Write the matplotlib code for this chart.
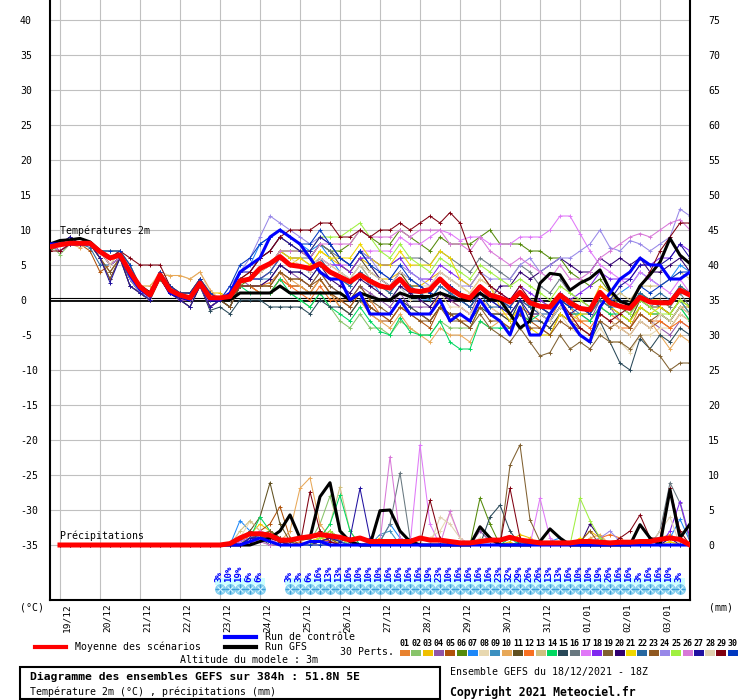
import matplotlib
matplotlib.use("Agg")
import matplotlib.pyplot as plt
import numpy as np
from matplotlib.lines import Line2D
from matplotlib.patches import Rectangle
from matplotlib.transforms import ScaledTranslation

# ---------------------------------------------------------------------------
# DATA - GEFS ensemble 18/12/2021 18Z, 6-hourly steps 0..64 (384h)
# temperatures in degC (65 values), precipitation in mm (steps 1..64)
# ---------------------------------------------------------------------------

day_labels = ['19/12', '20/12', '21/12', '22/12', '23/12', '24/12', '25/12', '26/12',
              '27/12', '28/12', '29/12', '30/12', '31/12', '01/01', '02/01', '03/01']
day_steps = [1, 5, 9, 13, 17, 21, 25, 29, 33, 37, 41, 45, 49, 53, 57, 61]

member_names = ['01', '02', '03', '04', '05', '06', '07', '08', '09', '10',
                '11', '12', '13', '14', '15', '16', '17', '18', '19', '20',
                '21', '22', '23', '24', '25', '26', '27', '28', '29', '30']
member_colors = ['#e8822f', '#88c46a', '#f0c000', '#9055a8', '#b0520a', '#548a0a',
                 '#1e88f8', '#e8d8b0', '#3c90c0', '#e8a858', '#605020', '#f87020',
                 '#d0c080', '#00d860', '#284858', '#687880', '#e078f8', '#8028f0',
                 '#806030', '#300070', '#f0d800', '#2868a0', '#905820', '#9888e8',
                 '#a0f040', '#d878d8', '#2010a0', '#e0d0b0', '#800010', '#0038c0']

t_mean = [7.6, 7.9, 8.1, 8.1, 8.1, 6.9, 6.0, 6.4, 4.0, 1.9, 0.7, 3.6, 1.4, 0.7, 0.3, 2.4, 0.3,
          0.3, 0.5, 2.7, 3.0, 4.5, 5.2, 6.2, 5.0, 4.8, 4.5, 5.2, 4.0, 3.3, 2.6, 3.6, 2.7,
          2.0, 1.7, 3.0, 1.4, 1.2, 1.5, 3.0, 1.6, 0.7, 0.3, 1.9, 0.7, 0.3, -0.3, 1.1, -0.4,
          -0.9, -1.0, 0.7, -0.4, -1.2, -1.4, 1.1, -0.4, -0.9, -1.2, 0.4, -0.3, -0.4, -0.4, 1.4, 0.7]
t_ctrl = [8, 8, 8, 8, 8, 7, 6, 6.5, 3.5, 1.5, 0.5, 3.5, 1, 0.5, 0, 2.5, 0,
          0, 1, 4, 5, 6, 9, 10, 9, 8, 6, 4, 3, 3, 0, 1, -2, -2, -2, 0, -2, -2, -2, 0, -3,
          -2, -3, 0, -2, -3, -5, -1, -5, -5, -2, 0, -3, -5, -6, -1, 1, 3, 4, 6, 5, 5, 3, 3, 4]
t_gfs = [8, 8.5, 8.6, 8.8, 8.3, 7, 6, 6.5, 4, 2, 1, 3.5, 1, 0.5, 0, 2.5, 0,
         0, 0, 1, 1, 1, 1, 2, 1, 1, 1, 1, 1, 1, 0, 1, 0.5, 0, 0, 1, 0.5, 0.5, 0.5, 1, 0.5,
         0, 0, 1, 0, 0, -2, -4, -3, 2.4, 3.8, 3.6, 1.4, 2.4, 3.1, 4.3, 1.4,
         -0.2, -0.7, 2, 3.6, 5.4, 8.8, 6.4, 5.2]

t01 = [8, 8, 8, 8, 8, 7, 6, 7, 3, 1, 0, 4, 1, 1, 0, 3, 0,
       0, 0, 2, 2, 2, 2.5, 4, 2, 2, 1, 3, 1, 0, 0, 2, 0, -2, -2, 0, -1, -2, -2, 1, 0,
       -1, -2, 0, -1, -2, -2, 0, -1, -2, -3, 0, -1, -3, -3, -1, -2, -3, -4, -1, -2, -2, -3, -1, -1]
t02 = [8, 6.5, 8, 8, 8, 6, 4, 6, 3, 1, 0, 3, 1, 1, 0, 2, 0,
       0, -1, 2, 2, 1, 1, 2, 1, 0, -1, 1, -1, -3, -4, -2, -4, -4, -5, -3, -4, -5, -5, -3, -4,
       -4, -4, -1, -2, -2, -3, 0, -1, -1, -2, 1, 0, -1, -2, 1, -1, -2, -3, 0, -1, -2, -3, -1, -3]
t03 = [8, 8, 8, 8, 8, 7, 7, 7, 5, 2, 1, 4, 2, 1, 1, 3, 1,
       1, 0, 3, 3, 3, 4, 6, 5, 6, 5, 7, 6, 5, 4, 6, 5, 3, 3, 4, 2, 2, 3, 4, 3,
       2, 1, 3, 2, 0, -1, 1, 0, -1, -2, 1, 0, 0, -1, 2, 1, -1, -2, 1, 0, 0, -1, 2, 1]
t04 = [8, 7, 8, 8, 8, 7, 5, 6, 4, 2, 1, 4, 1, 0, 0, 2, -1,
       0, 0, 3, 2, 2, 3, 5, 4, 3, 2, 4, 2, 1, 0, 2, 1, 0, -1, 1, -1, -1, -1, 1, 0,
       -1, -2, 1, 0, -1, -2, 0, -1, -2, -3, -1, -2, -2, -3, 0, -1, -3, -4, -2, -3, -4, -5, -3, -4]
t05 = [8, 8, 8, 8, 7, 4, 5, 6, 3, 1, 0, 4, 1, 1, 0, 2, 0,
       0, -1, 2, 2, 1, 1, 3, 2, 2, 1, 3, 1, -1, -2, 0, -2, -3, -3, -1, -2, -3, -4, -1, -2,
       -3, -3, 0, -2, -3, -4, -2, -3, -4, -5, -2, -3, -4, -5, -2, -3, -4, -5, -3, -4, -3, -4, -2, -3]
t06 = [8, 8, 8, 8, 8, 7, 6, 7, 4, 1, 0, 4, 1, 1, 0, 3, 0,
       0, 0, 2, 3, 4, 5, 7, 7, 7, 6, 8, 7, 7, 8, 10, 9, 8, 8, 10, 9, 8, 7, 9, 8,
       8, 8, 9, 10, 8, 8, 8, 7, 7, 6, 6, 4, 3, 2, 3, 1, 0, -1, 1, 0, -1, -2, 0, -2]
t07 = [8, 8, 8, 8, 8, 7, 6, 7, 4, 2, 1, 4, 2, 1, 0, 3, 1,
       0, 1, 4, 5, 8, 9, 10, 9, 8, 7, 8, 6, 4, 3, 5, 3, 1, 0, 2, 0, 0, 0, 2, 1,
       0, -1, 1, 0, -1, -1, 1, 0, -1, -2, 0, -1, -1, -2, 1, 0, 1, 2, 4, 3, 2, 3, 5, 4]
t08 = [8, 8, 8, 8, 8, 7, 5, 7, 4, 2, 2, 4, 3.5, 3.5, 3, 4, 1,
       0, 0, 3, 3, 4, 5, 7, 6, 5, 4, 6, 4, 3, 2, 4, 2, 1, 0, 2, 0, 0, -1, 1, -1,
       -1, -2, 0, -1, -2, -3, -1, -2, -3, -4, -2, -4, -5, -6, -4, -6, -6, -7.5, -5, -5, -4, -4, -2, -3]
t09 = [8, 8, 8, 8, 8, 7, 6, 7, 3, 1, 0, 4, 1, 1, 0, 3, 0,
       0, 0, 3, 3, 3, 3, 5, 4, 4, 3, 5, 4, 3, 2, 4, 2, 2, 1, 3, 1, 1, 0, 2, 1,
       0, -1, 1, 0, 0, -1, 1, -1, -1, -2, 1, -1, -2, -2, 0, -1, -1, -2, 1, 0, -1, -2, 0, -2]
t10 = [8, 8, 8, 7.5, 8, 7, 5, 7, 4, 2, 2, 3.5, 3.5, 3.5, 3, 4, 1.5,
       0, -1, 2, 2, 2, 2, 4, 3, 2, 1, 3, 1, -1, -2, 0, -2, -3, -4, -2, -4, -5, -6, -4, -5,
       -5, -6, -3, -4, -3, -4, -1, -2, -2, -3, -1, -2, -3, -3, -1, -2, -3, -4, -2, -3, -5, -7, -5, -6]
t11 = [8, 8, 8, 8, 8, 7, 5, 6, 4, 2, 1, 4, 1, 0, 0, 2, -1,
       0, 0, 3, 4, 6, 7, 9, 8, 7, 6, 8, 7, 5, 4, 6, 4, 3, 2, 4, 2, 2, 1, 3, 2,
       1, 0, 2, 1, 0, -1, 1, 0, 0, -1, 1, 0, -1, -2, 0, -1, -2, -3, 0, -1, -1, -2, 0, -1]
t12 = [7, 8, 8, 8, 8, 6, 4, 6, 3, 1, 0, 3, 1, 1, 0, 2, 0,
       0, 0, 2, 2, 1, 1, 3, 2, 1, 0, 2, 0, 0, -1, 1, -1, -2, -3, -1, -2, -2, -3, -1, -2,
       -2, -3, 0, -2, -2, -3, -1, -2, -3, -4, -2, -3, -3, -4, -2, -3, -4, -4, -2, -3, -3, -4, -3, -4]
t13 = [8, 8, 8, 8, 8, 7, 7, 7, 5, 2, 1, 4, 2, 1, 1, 3, 1,
       0, 1, 3, 3, 4, 5, 7, 6, 6, 5, 6, 5, 4, 3, 5, 3, 2, 1, 3, 2, 1, 1, 3, 2,
       1, 0, 2, 1, 0, -1, 1, 0, 0, -1, 1, 0, 0, -1, 1, 0, 1, 0, 2, 2, 2, 3, 4, 3]
t14 = [8, 8, 8, 8, 8, 7, 6, 7, 3, 1, 0, 4, 1, 1, 0, 3, 0,
       0, -1, 2, 1, 1, 1, 3, 1, 0, -1, 1, -1, -2, -3, -1, -3, -4.5, -5, -2.5, -4.5, -5, -5, -3, -6,
       -7, -7, -3, -4, -4, -4, -2, -3, -2, -3, -1, -2, -2, -3, -1, -2, -2, -3, -1, -2, -2, -3, -1, -3]
t15 = [8, 8, 9, 8, 8, 6, 3, 6, 2, 1, 0, 4, 1, 0, -1, 2, -1.5,
       -1, -2, 0, 0, 0, -1, -1, -1, -1, -2, 0, -1, -1, -2, 0, -1, -2, -2, 0, -1, -2, -3, -1, -2,
       -2, -3, -1, -2, -2, -3, 0, -3, -3, -4, -2, -3, -5, -6, -3, -6, -9, -10, -5.5, -7, -5, -6, -4, -5]
t16 = [8, 7, 8, 8, 8, 7, 5, 6, 4, 2, 1, 4, 1, 0, 0, 2, -1,
       0, 0, 3, 3, 4, 5, 7, 6, 6, 6, 8, 7, 6, 5, 7, 6, 5, 5, 6, 6, 6, 5, 7, 6,
       5, 4, 6, 5, 4, 3, 5, 4, 2, 1, 3, 1, 0, -1, 1, 0, -1, -2, 0, -1, 0, -1, 1, -1]
t17 = [8, 8, 8, 8, 8, 7, 6, 7, 3, 1, 0, 4, 1, 1, 0, 3, 0,
       0, 0, 3, 3, 3, 4, 6, 5, 5, 4, 6, 5, 5, 5, 7, 7, 7, 7, 9, 8, 8, 9, 10, 9.5,
       8.5, 9, 9, 8, 8, 8, 9, 9, 9, 10, 12, 12, 9.5, 7, 5, 4, 3, 2, 4, 3, 2, 1, 3, 1]
t18 = [8, 8, 8, 8, 8, 7, 7, 7, 5, 2, 1, 4, 2, 1, 1, 3, 1,
       0, 0, 3, 3, 3, 4, 6, 5, 5, 4, 6, 5, 5, 4, 6, 6, 5, 5, 6, 4, 3, 3, 5, 4,
       3, 2, 4, 2, 1, 0, 2, 1, 0, -1, 1, 0, 1, 2, 4, 3, 3, 3, 5, 5, 6, 6, 8, 7]
t19 = [7, 8, 8, 8, 8, 6, 4, 6, 3, 1, 0, 3, 1, 1, 0, 2, 0,
       0, 0, 2, 2, 2, 2, 4, 3, 3, 2, 4, 2, 1, 0, 2, 0, -1, -2, 0, -2, -2, -3, -1, -3,
       -3, -4, -2, -4, -5, -6, -4, -6, -8, -7.5, -5, -7, -6, -7, -5, -6, -6, -7, -5, -7, -8, -10, -9, -9]
t20 = [8, 7, 8, 8, 8, 7, 5, 6, 4, 2, 1, 4, 1, 0, 0, 2, -1,
       0, -1, 2, 2, 2, 3, 5, 4, 4, 3, 5, 3, 2, 1, 3, 2, 1, 0, 2, 1, 0, -1, 1, 0,
       0, -1, 1, 0, 2, 2, 4, 3, 4, 5, 6, 5, 4, 4, 6, 5, 6, 5, 6, 4, 4, 5, 6, 4]
t21 = [8, 8, 8, 8, 8, 7, 6, 7, 3, 1, 0, 4, 1, 1, 0, 3, 0,
       0, 0, 3, 3, 4, 5, 7, 6, 6, 5, 7, 6, 6, 6, 8, 6, 5, 5, 7, 5, 5, 5, 7, 6,
       3, 2, 4, 2, -1, -3, -1, -4, -5, -5, -2, -3, -2, -2, 0, -1, -2, -3, -1, -2, -1, -2, 0, -1]
t22 = [8, 8, 8, 8, 7.5, 5, 5, 6, 3, 1, 0, 4, 1, 1, 0, 2, 0,
       0, 0, 3, 3, 3, 4, 6, 5, 5, 4, 6, 4, 3, 2, 4, 3, 2, 1, 3, 2, 1, 0, 2, 1,
       0, -1, 1, -1, -1, -2, 0, -1, -2, -2, 0, -1, -1, -2, 0, -1, 0, -1, 1, 0, 1, 0, 2, 1]
t23 = [8, 8, 9, 8, 8, 6, 3, 6, 2, 1, 0, 4, 1, 0, -1, 2, -1,
       0, -1, 2, 2, 2, 2, 4, 3, 3, 2, 3, 1, 0, -1, 1, -1, -2, -3, -1, -2, -3, -3, -1, -2,
       -3, -4, -1, -3, -3, -4, -2, -4, -4, -5, -3, -4, -4, -5, -3, -4, -3, -4, -2, -3, -2, -3, -1, -2]
t24 = [8, 8, 8, 8, 8, 7, 6, 7, 3, 1, 0, 4, 1, 1, 0, 3, 0,
       0, 2, 4, 6, 9, 12, 11, 10, 9, 8, 9, 8, 6, 5, 7, 6, 4, 3, 5, 4, 3, 2, 4, 3,
       2, 2, 4, 3, 3, 3, 5, 6, 4, 5, 6, 6, 7, 8, 10, 7.5, 7, 8.5, 8, 7, 8, 9, 13, 12]
t25 = [8, 8, 8, 8, 8, 7, 7, 7, 5, 2, 1, 4, 2, 1, 1, 3, 1,
       0, 0, 3, 3, 4, 5, 7, 7, 7, 7, 9, 9, 9, 10, 11, 9, 7, 6, 8, 6, 5, 4, 6, 5,
       4, 3, 5, 4, 3, 2, 3, 2, 1, 0, 2, 1, 0, -1, 1, 0, -1, -2, 0, -1, -2, -2, 0, -1]
t26 = [8, 7, 8, 8, 8, 7, 5, 6, 4, 2, 1, 4, 1, 0, 0, 2, -1,
       0, 0, 3, 3, 4, 5, 7, 7, 7, 6, 8, 8, 8, 8, 10, 9, 9, 9, 10, 9, 10, 10, 10, 8,
       8, 7, 9, 7, 6, 5, 6, 5, 4, 3, 5, 3, 3, 4, 6, 7, 8, 9, 9.5, 9, 10, 11, 11.5, 10]
t27 = [8, 8, 9, 8, 8, 6, 2.5, 6, 2, 1, 0, 4, 1, 0, -1, 2, -1,
       0, 1, 4, 4, 6, 7, 9, 8, 7, 7, 9, 8, 6, 5, 7, 5, 3, 2, 4, 3, 2, 1, 3, 2,
       1, 0, 2, 0, -1, -2, 0, -2, -2, -3, -1, -2, -1, -2, 1, 0, 2, 3, 5, 5, 5, 6, 8, 6]
t28 = [8, 8, 8, 8, 8, 7, 5, 7, 4, 2, 1, 4, 2, 1, 0, 3, 1,
       0, 0, 3, 3, 4, 5, 6, 5, 5, 4, 6, 5, 4, 3, 5, 4, 3, 2, 4, 3, 2, 2, 4, 3,
       2, 1, 3, 2, 0, -1, 1, 0, -2, -3, -1, -2, -4, -5, -2, -3, -4, -5, -3, -4, -2, -3, -1, -2]
t29 = [7, 7, 8, 8, 8, 7, 6, 7, 6, 5, 5, 5, 2, 1, 1, 3, 1,
       0, 1, 3, 4, 6, 7, 9, 10, 10, 10, 11, 11, 9, 9, 10, 9, 10, 10, 11, 10, 11, 12, 11, 12.5,
       11, 7, 4, 2, 1, 0, 2, 0, -1, -2, 0, -2, -4, -5, -2, -3, -2, -1, 2, 4, 7, 9, 11, 11]
t30 = [8, 8, 8, 8, 8, 7, 7, 7, 5, 2, 1, 4, 2, 1, 1, 3, 1,
       0, 2, 5, 6, 8, 9, 10, 9, 8, 8, 10, 8, 6, 5, 7, 5, 4, 3, 5, 3, 2, 1, 3, 2,
       1, 0, 2, 1, 0, -1, 1, 0, -1, -2, 0, -1, -1, -2, 1, 0, 0, -1, 2, 1, 2, 3, 4, 4]

p_mean = [0, 0, 0, 0, 0, 0, 0, 0, 0, 0, 0, 0, 0, 0, 0, 0, 0,
          0.2, 1.0, 1.6, 1.6, 1.4, 0.7, 0.7, 1.0, 1.2, 1.5, 1.3, 1.1, 0.7, 1.0, 0.5,
          0.5, 0.5, 0.5, 0.5, 1.0, 0.7, 0.7, 0.5, 0.3, 0.3, 0.5, 0.7, 0.7, 1.1, 0.7,
          0.5, 0.3, 0.3, 0.3, 0.3, 0.5, 0.5, 0.4, 0.3, 0.4, 0.4, 0.5, 0.5, 0.8, 1.0, 0.8, 0.0]
p_ctrl = [0, 0, 0, 0, 0, 0, 0, 0, 0, 0, 0, 0, 0, 0, 0, 0, 0,
          0, 0, 0.5, 1, 0.5, 0, 0, 0, 0.5, 0.5, 0, 0, 0, 0, 0, 0, 0, 0, 0, 0,
          0, 0, 0, 0, 0, 0, 0, 0, 0, 0, 0, 0, 0, 0, 0, 0, 0, 0, 0, 0, 0, 0, 0, 0, 0, 0, 0]
p_gfs = [0, 0, 0, 0, 0, 0, 0, 0, 0, 0, 0, 0, 0, 0, 0, 0, 0,
         0, 0, 0, 0.5, 1, 2, 4.3, 1, 1, 6.9, 8.9, 2, 0.5, 0, 0, 4.9, 5, 2, 0.5, 0,
         0, 0, 0, 0, 0, 2.6, 1, 0, 0, 0, 0, 0.5, 2.3, 1, 0, 0, 0, 0, 0, 0, 0, 2.9, 1, 0, 7.9, 1, 3]

p01 = [0, 0, 0, 0, 0, 0, 0, 0, 0, 0, 0, 0, 0, 0, 0, 0, 0,
       0, 1, 2, 1, 0.5, 0, 0, 0.5, 1, 2, 1, 0.5, 0, 0, 0, 0, 0, 0.5, 0, 0,
       0, 0, 0, 0, 0, 0.5, 1, 0, 0, 0, 0, 0, 0, 0, 0, 0.5, 0, 0, 0, 0, 0, 0, 0.5, 1, 1.5, 0.5, 0]
p02 = [0, 0, 0, 0, 0, 0, 0, 0, 0, 0, 0, 0, 0, 0, 0, 0, 0,
       0, 0.5, 1, 2, 1, 0, 0, 0, 0.5, 3, 7, 2, 0.5, 0, 0, 0, 0, 0, 0, 0,
       0, 0, 0, 0, 0, 0, 0, 0, 0, 0, 0, 0, 0, 0, 0, 0, 0, 0, 0, 0, 0, 0, 0, 0, 0, 0, 0]
p03 = [0, 0, 0, 0, 0, 0, 0, 0, 0, 0, 0, 0, 0, 0, 0, 0, 0,
       0, 0, 1.5, 3, 2, 1, 0, 0, 0.5, 1, 0.5, 0, 0, 0, 0, 1, 0, 0, 0, 0,
       0, 0, 0, 0, 0, 0, 0, 0, 0.5, 1.5, 1, 0, 0, 0, 0, 0.5, 2, 1, 0, 0, 0, 0, 0.5, 1, 0.5, 0, 0]
p04 = [0, 0, 0, 0, 0, 0, 0, 0, 0, 0, 0, 0, 0, 0, 0, 0, 0,
       0, 0, 1, 2, 1.5, 0.5, 0, 0, 0, 1, 2, 1, 0, 0, 0, 0, 0, 0, 0, 0,
       0, 0, 0, 0, 0, 2, 0.5, 0, 0, 0, 0, 0, 0, 0, 0, 0, 0, 0, 0, 0, 0, 0, 0, 0, 0, 0, 0]
p05 = [0, 0, 0, 0, 0, 0, 0, 0, 0, 0, 0, 0, 0, 0, 0, 0, 0,
       0, 0, 1, 2, 3, 5.5, 1, 0, 0, 1, 2, 0.5, 0, 0, 0, 0, 0, 0, 0, 0,
       0, 0, 0, 0, 0, 0, 0, 0, 0, 0, 0, 0, 0, 0, 0, 0, 0, 0, 0, 0, 0, 0, 0, 0, 0, 0, 0]
p06 = [0, 0, 0, 0, 0, 0, 0, 0, 0, 0, 0, 0, 0, 0, 0, 0, 0,
       0, 0, 1, 1.5, 2, 1, 0, 0, 0, 0.5, 1, 0.5, 0, 0, 0, 0, 0, 0, 0, 0,
       0, 0, 0, 0, 0, 6.7, 3, 0, 0, 0, 0, 0, 0, 0, 0, 0, 0, 0, 0, 0, 0, 0, 0, 0, 0, 0, 0]
p07 = [0, 0, 0, 0, 0, 0, 0, 0, 0, 0, 0, 0, 0, 0, 0, 0, 0,
       0, 3.5, 2, 1, 1.5, 0.5, 0, 0, 0, 1, 1.5, 0.5, 0, 0, 0, 0.5, 3, 1, 0, 0,
       0, 0, 0, 0, 0, 0, 0, 0, 0, 0, 0, 0, 0.5, 1, 0, 0, 0, 0, 0, 0, 0, 0, 0, 0, 1, 3.7, 0.5]
p08 = [0, 0, 0, 0, 0, 0, 0, 0, 0, 0, 0, 0, 0, 0, 0, 0, 0,
       0, 1, 3.4, 2, 1, 0, 0, 0, 0, 0.5, 1, 0, 0, 0, 0, 0, 0, 0, 0, 0.5,
       1, 2, 4.5, 1, 0, 0, 0, 0, 0, 0, 0, 0, 0, 0, 0, 0, 0, 0, 0, 0, 0, 0, 0, 0, 0, 0, 0]
p09 = [0, 0, 0, 0, 0, 0, 0, 0, 0, 0, 0, 0, 0, 0, 0, 0, 0,
       0, 0.5, 1, 1, 2, 1, 0, 0, 0, 0, 0.5, 1, 0.5, 0, 0, 1.5, 2, 0, 0, 0,
       0, 0, 0, 0, 0, 0, 0, 0, 0, 0.5, 0, 0, 0, 0, 0, 0, 0, 0, 0, 0, 0, 0, 0, 0, 0, 0, 0]
p10 = [0, 0, 0, 0, 0, 0, 0, 0, 0, 0, 0, 0, 0, 0, 0, 0, 0,
       0, 0, 0.5, 1, 1, 0.5, 2, 8.1, 9.6, 3, 1, 0, 0, 0, 0, 0, 0, 0, 0, 0,
       0, 0, 0, 0, 0, 0, 0, 0, 0, 0, 0, 0, 0, 0, 0, 0, 1, 1.5, 0, 0, 0, 0, 0, 0, 0, 0, 0]
p11 = [0, 0, 0, 0, 0, 0, 0, 0, 0, 0, 0, 0, 0, 0, 0, 0, 0,
       0, 0.5, 2, 4, 8.9, 3, 0.5, 0, 0, 0.5, 1, 0, 0, 0, 0, 0, 0, 0, 0, 0,
       0, 0, 0, 0, 0, 0, 0, 0, 0, 0, 0, 0, 0, 0, 0, 0, 0, 0, 0, 0, 0, 0, 0, 0, 0, 0, 0]
p12 = [0, 0, 0, 0, 0, 0, 0, 0, 0, 0, 0, 0, 0, 0, 0, 0, 0,
       0, 0, 0.5, 1, 2, 1, 0, 0, 0.5, 1, 0.5, 0, 0, 0, 0, 0, 0, 0, 0, 0,
       0, 0, 0, 0, 0, 0, 0, 0, 0, 0, 0, 0, 0, 0, 0, 0, 0, 1, 1.5, 1, 0, 0, 0, 0, 0, 0, 0]
p13 = [0, 0, 0, 0, 0, 0, 0, 0, 0, 0, 0, 0, 0, 0, 0, 0, 0,
       0, 2, 3.5, 2, 1, 0, 0, 0, 0, 1, 3, 8.3, 2, 0, 0, 0, 0, 0, 0, 0,
       0, 0, 0, 0, 0, 0, 0, 0, 0, 0, 0, 0, 0, 0, 0, 0, 0, 0, 0, 0, 0, 0, 0, 0, 0, 0, 0]
p14 = [0, 0, 0, 0, 0, 0, 0, 0, 0, 0, 0, 0, 0, 0, 0, 0, 0,
       0, 0, 1, 4, 2, 1, 0, 0, 0, 1, 3, 7.1, 2, 0, 0, 0, 0, 0, 0, 0,
       0, 0, 0, 0, 0, 0, 0, 0, 1, 0, 0, 0, 0, 0, 0, 0, 0, 0, 0, 0, 0, 0, 0, 0, 0, 0, 0]
p15 = [0, 0, 0, 0, 0, 0, 0, 0, 0, 0, 0, 0, 0, 0, 0, 0, 0,
       0, 0.5, 1, 1, 0, 0, 0, 0, 0, 0, 0, 0, 0, 0, 0, 0, 0, 0, 0, 0,
       0, 0, 0, 0, 0, 0, 4, 5.7, 2, 0, 0, 0, 0, 0, 0, 0, 0, 0, 0, 0, 0, 0, 0, 0, 0, 0, 0]
p16 = [0, 0, 0, 0, 0, 0, 0, 0, 0, 0, 0, 0, 0, 0, 0, 0, 0,
       0, 0, 1, 0.5, 0, 0, 0, 0, 0, 0, 0, 0, 0, 0, 0, 0.5, 3, 10.3, 1, 0,
       0, 0, 0, 0, 0, 0, 0, 0, 0, 0, 0, 0, 0, 0, 0, 0, 0, 0, 0, 0, 0, 0, 0, 2, 8.9, 6, 0.5]
p17 = [0, 0, 0, 0, 0, 0, 0, 0, 0, 0, 0, 0, 0, 0, 0, 0, 0,
       0, 0.5, 1, 2, 1, 0, 0, 0, 0, 0, 0, 0, 0, 0, 0, 0, 0, 0, 0, 14.3,
       3, 0, 0, 0, 0, 0, 0, 0, 0, 0, 0, 6.7, 1, 0, 0, 0, 0, 0, 0, 0, 0, 0, 0, 0, 0, 0, 0]
p18 = [0, 0, 0, 0, 0, 0, 0, 0, 0, 0, 0, 0, 0, 0, 0, 0, 0,
       0, 0, 0.5, 1, 1.5, 1, 0, 0, 0, 0.5, 0.5, 0, 0, 0, 0, 0, 0, 0, 0, 0,
       0, 0, 0, 0, 0, 0, 0, 0, 0, 0, 0, 0, 0, 0, 0, 0, 0, 0, 0, 0, 0, 0, 0, 0, 2, 6.2, 1]
p19 = [0, 0, 0, 0, 0, 0, 0, 0, 0, 0, 0, 0, 0, 0, 0, 0, 0,
       0, 0, 0.5, 1, 1, 0.5, 0, 0, 0, 0, 0, 0, 0, 0, 0, 0, 0, 0, 0, 0,
       0, 0, 0, 0, 0, 0, 0, 0, 11.4, 14.3, 3.6, 0.5, 0, 0, 0, 0, 0, 0, 0, 0, 0, 0, 0, 0, 0, 0, 0]
p20 = [0, 0, 0, 0, 0, 0, 0, 0, 0, 0, 0, 0, 0, 0, 0, 0, 0,
       0, 0, 1, 1, 0.5, 0, 0, 0, 0, 0, 0, 0, 0, 0, 0, 0, 0, 0, 0, 0,
       0, 0, 0, 0, 0, 0, 0, 0, 0, 0, 0, 0, 0, 0, 0, 0, 3, 1, 0, 0, 0, 0, 0, 0, 1, 0, 0]
p21 = [0, 0, 0, 0, 0, 0, 0, 0, 0, 0, 0, 0, 0, 0, 0, 0, 0,
       0, 0, 0.5, 1, 1, 0.5, 0, 0, 0.5, 1, 1, 0, 0, 0, 0, 0, 0, 0, 0, 0,
       0, 0, 0, 0, 0, 0, 0, 0, 0, 0, 0, 0, 0, 0, 0, 1, 0.5, 0, 0, 0, 0, 0, 0, 0, 0.5, 0, 0]
p22 = [0, 0, 0, 0, 0, 0, 0, 0, 0, 0, 0, 0, 0, 0, 0, 0, 0,
       0, 0, 1, 1.5, 1, 0.5, 0, 0, 0, 0, 0, 0, 0, 0, 0, 0, 0, 0, 0, 0,
       0, 0, 0, 0, 0, 0, 0, 0, 0, 0, 0, 0, 0, 0, 0, 0, 0, 0, 0, 0, 0, 0, 0, 0, 0, 0, 0]
p23 = [0, 0, 0, 0, 0, 0, 0, 0, 0, 0, 0, 0, 0, 0, 0, 0, 0,
       0, 0, 0.5, 1, 2, 1, 0, 0, 0, 0.5, 1, 0, 0, 0, 0, 0, 0, 0, 0, 0,
       0, 0, 0, 0, 0, 0, 0, 0, 0, 0, 0, 0, 0, 0, 0, 0.5, 2, 0, 0, 0, 0, 0, 0, 0, 0, 0, 0]
p24 = [0, 0, 0, 0, 0, 0, 0, 0, 0, 0, 0, 0, 0, 0, 0, 0, 0,
       0, 0, 0.5, 1, 0.5, 0, 0, 0, 0, 0, 0, 0, 0, 0, 0, 0, 0, 0, 0, 0,
       0, 0, 0, 0, 0, 0, 0, 0, 0, 0, 0, 0, 0, 0, 0, 0, 0.5, 1, 2, 0.5, 0, 0, 0, 0, 0, 0, 0]
p25 = [0, 0, 0, 0, 0, 0, 0, 0, 0, 0, 0, 0, 0, 0, 0, 0, 0,
       0, 0, 0.5, 1, 0.5, 0, 0, 0, 0, 1, 2, 1, 0, 0, 0, 0, 0, 0, 0, 0,
       0, 0, 0, 0, 0, 0, 0, 0, 0, 0, 0, 0, 0, 0, 0, 6.7, 3.5, 1, 0, 0, 0, 0, 0, 0, 0, 0, 0]
p26 = [0, 0, 0, 0, 0, 0, 0, 0, 0, 0, 0, 0, 0, 0, 0, 0, 0,
       0, 0, 0.5, 0.5, 0, 0, 0, 0, 0, 0, 0, 0, 0, 0, 0.5, 0.5, 12.6, 1, 0, 0,
       0, 0, 4.8, 1, 0, 0, 0, 0, 0, 0, 0, 0, 0, 0, 0, 0, 0, 0, 0, 0, 0, 0, 0, 0, 0, 0, 0]
p27 = [0, 0, 0, 0, 0, 0, 0, 0, 0, 0, 0, 0, 0, 0, 0, 0, 0,
       0, 0, 1, 1, 1, 0.5, 0, 0, 0, 0.5, 1, 0.5, 1, 8.1, 1, 0, 0, 0, 0, 0,
       0, 0, 0, 0, 0, 0, 0, 0, 0, 0, 0, 0, 0, 0, 0, 0, 0, 0, 0, 0, 0, 0, 0, 0, 0, 0, 0]
p28 = [0, 0, 0, 0, 0, 0, 0, 0, 0, 0, 0, 0, 0, 0, 0, 0, 0,
       0, 1, 1.5, 1, 0.5, 0, 0, 0, 0, 0, 0, 0, 0, 0, 0, 0, 0, 0, 0, 0,
       0, 4, 3, 1, 0, 1, 0.5, 0, 0, 0, 0, 0, 0, 0, 0, 0, 0, 0, 0, 0, 0, 0, 0, 2, 4, 0, 0]
p29 = [0, 0, 0, 0, 0, 0, 0, 0, 0, 0, 0, 0, 0, 0, 0, 0, 0,
       0, 0, 0.5, 1, 1, 0.5, 0, 0, 7.6, 2, 0.5, 0, 0, 0, 0, 0, 0, 0, 0, 0,
       6.4, 1, 0, 0, 0, 0, 0, 0, 8.1, 1, 0, 0, 0, 0, 0, 0, 0, 0, 0, 1, 2, 4.3, 1, 1, 8.1, 2, 0]
p30 = [0, 0, 0, 0, 0, 0, 0, 0, 0, 0, 0, 0, 0, 0, 0, 0, 0,
       0, 1, 1.5, 1, 0.5, 0, 0, 0, 0, 0, 0, 0, 0, 0, 0, 0, 0, 0, 0, 0,
       0, 0, 0, 0, 0, 0, 0, 0, 0, 0, 0, 0, 0, 0, 0, 0, 0, 0, 0, 0, 0, 0, 0, 0, 0, 0, 0]

# snow probability (%) per step
snow_steps_a = [17, 18, 19, 20, 21]
snow_pct_a = [3, 10, 19, 6, 6]
snow_steps_b = list(range(24, 64))
snow_pct_b = [3, 3, 6, 16, 13, 13, 16, 10, 10, 10, 16, 16, 16, 16, 19, 23,
              10, 16, 16, 16, 16, 23, 32, 29, 26, 26, 13, 13, 16, 10, 10, 19,
              26, 16, 16, 3, 16, 16, 10, 3]

member_temps = [t01, t02, t03, t04, t05, t06, t07, t08, t09, t10, t11, t12, t13, t14, t15,
                t16, t17, t18, t19, t20, t21, t22, t23, t24, t25, t26, t27, t28, t29, t30]
member_precs = [p01, p02, p03, p04, p05, p06, p07, p08, p09, p10, p11, p12, p13, p14, p15,
                p16, p17, p18, p19, p20, p21, p22, p23, p24, p25, p26, p27, p28, p29, p30]

PREC_OFFSET = -35   # 0 mm sits on the -35 degC line

# ---------------------------------------------------------------------------
# PLOT
# ---------------------------------------------------------------------------
plt.rcParams['font.family'] = ['DejaVu Sans Mono']

W, H = 740, 700
fig = plt.figure(figsize=(W / 100, H / 100), dpi=100)
ax = fig.add_axes([50 / W, 100 / H, 640 / W, 600 / H])


def fx(px):
    return px / W


def fy(py):
    return 1 - py / H


def ty(py):
    # pixel row inside the plot -> temperature value
    return (300 - py) / 7


steps = np.arange(65)
ax.set_xlim(0, 64)
ax.set_ylim(-300 / 7, 300 / 7)

for t, p, c in zip(member_temps, member_precs, member_colors):
    ax.plot(steps, t, color=c, lw=0.75, marker='+', ms=3, mew=0.7, zorder=2)
    ax.plot(steps[1:], np.array(p) + PREC_OFFSET, color=c, lw=0.75,
            marker='+', ms=3, mew=0.7, zorder=2)

ax.plot(steps, t_gfs, color='black', lw=2.2, zorder=3)
ax.plot(steps[1:], np.array(p_gfs) + PREC_OFFSET, color='black', lw=2.2, zorder=3)
ax.plot(steps, t_ctrl, color='#0000ff', lw=2.2, zorder=3.5)
ax.plot(steps[1:], np.array(p_ctrl) + PREC_OFFSET, color='#0000ff', lw=2.2, zorder=3.5)
ax.plot(steps, t_mean, color='#ff0000', lw=3.6, zorder=4, solid_joinstyle='round')
ax.plot(steps[1:], np.array(p_mean) + PREC_OFFSET, color='#ff0000', lw=3.6, zorder=4,
        solid_joinstyle='round')

# double zero line
ax.axhline(0.25, color='black', lw=0.8, zorder=1.5)
ax.axhline(-0.15, color='black', lw=1.3, zorder=1.5)

# grid / axes
ax.set_yticks(np.arange(-35, 41, 5))
ax.set_yticklabels([f'{v}' for v in range(-35, 41, 5)])
ax.tick_params(axis='y', length=0, pad=21.6, labelsize=7.1)
for lab in ax.get_yticklabels():
    lab.set_horizontalalignment('left')

ax.set_xticks(day_steps)
ax.set_xticklabels(day_labels, rotation=90)
ax.tick_params(axis='x', length=0, pad=2.2, labelsize=6.8)
shift = ScaledTranslation(7 / 100, 0, fig.dpi_scale_trans)
for lab in ax.get_xticklabels():
    lab.set_transform(lab.get_transform() + shift)

ax.grid(True, color='#c0c0c0', lw=0.8)
ax.set_axisbelow(True)
ax.spines['top'].set_visible(False)
for s in ['left', 'right', 'bottom']:
    ax.spines[s].set_linewidth(1.5)

ax2 = ax.twinx()
lo, hi = ax.get_ylim()
ax2.set_ylim(lo - PREC_OFFSET, hi - PREC_OFFSET)
ax2.set_yticks(np.arange(0, 76, 5))
ax2.set_yticklabels([f'{v}' for v in range(0, 76, 5)])
ax2.tick_params(axis='y', length=0, pad=13, labelsize=7.1)
for s in ax2.spines.values():
    s.set_visible(False)

# panel titles
ax.text(1, ty(231), 'Températures 2m', fontsize=7.1, va='center', ha='left', zorder=5)
ax.text(1, ty(536), 'Précipitations', fontsize=7.1, va='center', ha='left', zorder=5)

# snow probability band
for st, pc in [(snow_steps_a, snow_pct_a), (snow_steps_b, snow_pct_b)]:
    x0, x1 = st[0] - 0.5, st[-1] + 0.5
    ax.add_patch(Rectangle((x0, ty(585)), x1 - x0, ty(578) - ty(585),
                           facecolor='#ccffff', edgecolor='none', zorder=2))
    ax.plot(st, [ty(588.5)] * len(st), ls='none', marker='o', ms=7.8,
            mfc='#80cdee', mec='none', zorder=3)
    ax.plot(st, [ty(588.5)] * len(st), ls='none', marker='+', ms=6.5,
            mec='#3c9cd8', mew=0.8, zorder=3.2)
    ax.plot(st, [ty(588.5)] * len(st), ls='none', marker='x', ms=4.5,
            mec='#d8f4ff', mew=0.7, zorder=3.3)
    for s_, v in zip(st, pc):
        ax.text(s_ - 0.1, ty(582), f'{v}%', rotation=90, ha='center', va='bottom',
                color='#0000ff', fontsize=6.6, fontweight='bold', zorder=4)

# axis unit labels
fig.text(fx(20), fy(607), '(°C)', fontsize=7.1, va='center', ha='left')
fig.text(fx(709), fy(607), '(mm)', fontsize=7.1, va='center', ha='left')

# legend
fig.add_artist(Line2D([fx(35), fx(66)], [fy(647), fy(647)], color='#ff0000', lw=3,
                      transform=fig.transFigure))
fig.text(fx(75), fy(647), 'Moyenne des scénarios', fontsize=7.1, va='center')
fig.add_artist(Line2D([fx(225), fx(256)], [fy(637), fy(637)], color='#0000ff', lw=3,
                      transform=fig.transFigure))
fig.text(fx(265), fy(637), 'Run de contrôle', fontsize=7.1, va='center')
fig.add_artist(Line2D([fx(225), fx(256)], [fy(647), fy(647)], color='black', lw=3,
                      transform=fig.transFigure))
fig.text(fx(265), fy(647), 'Run GFS', fontsize=7.1, va='center')
fig.text(fx(180), fy(660), 'Altitude du modele : 3m', fontsize=7.1, va='center')
fig.text(fx(340), fy(652), '30 Perts.', fontsize=7.1, va='center')

for k, (nm, c) in enumerate(zip(member_names, member_colors)):
    x0 = 400 + 11.3 * k
    fig.add_artist(Rectangle((fx(x0), fy(656)), 10 / W, 6 / H, facecolor=c,
                             edgecolor='none', transform=fig.transFigure))
    fig.text(fx(x0 + 5), fy(644), nm, fontsize=6, fontweight='bold',
             ha='center', va='center')

# title box
fig.add_artist(Rectangle((fx(20), fy(699)), 420 / W, 32 / H, fill=False,
                         edgecolor='black', lw=1.5, transform=fig.transFigure))
fig.text(fx(30), fy(677), 'Diagramme des ensembles GEFS sur 384h : 51.8N 5E',
         fontsize=8.2, fontweight='bold', va='center')
fig.text(fx(30), fy(692), 'Température 2m (°C) , précipitations (mm)',
         fontsize=7.1, va='center')
fig.text(fx(450), fy(672), 'Ensemble GEFS du 18/12/2021 - 18Z', fontsize=7.1, va='center')
fig.text(fx(450), fy(692), 'Copyright 2021 Meteociel.fr', fontsize=8.3,
         fontweight='bold', va='center')

fig.savefig('out.png', dpi=100)
